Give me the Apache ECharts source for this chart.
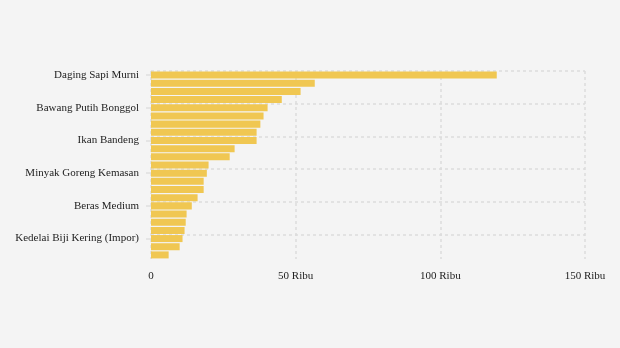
<!DOCTYPE html>
<html><head><meta charset="utf-8">
<script src="https://cdn.jsdelivr.net/npm/echarts@6/dist/echarts.min.js"></script>
<style>html,body{margin:0;padding:0;background:#f4f4f4}#c{width:620px;height:348px}</style>
</head><body><div id="c"></div>
<script>
var categories = [
  "Daging Sapi Murni","Cabai Rawit Merah","Cabai Merah Besar","Cabai Merah Keriting",
  "Bawang Putih Bonggol","Bawang Merah","Ikan Kembung","Daging Ayam Ras",
  "Ikan Bandeng","Ikan Tongkol","Telur Ayam Ras","Gula Konsumsi",
  "Minyak Goreng Kemasan","Minyak Goreng Curah","Tepung Terigu (Non Curah)","Beras Premium",
  "Beras Medium","Garam Konsumsi","Minyak Goreng Kita","Tepung Terigu Curah",
  "Kedelai Biji Kering (Impor)","Beras SPHP","Jagung Tingkat Peternak"
];
var values = [
  119500, 56600, 51700, 45200,
  40300, 38900, 37800, 36500,
  36500, 28900, 27200, 19900,
  19300, 18200, 18200, 16100,
  14100, 12300, 12000, 11600,
  10900, 9900, 6100
];
var xTicks = [0, 50000, 100000, 150000];
var xTickLabels = ["0", "50 Ribu", "100 Ribu", "150 Ribu"];

var chart = echarts.init(document.getElementById('c'), null, {renderer: 'canvas'});
var font = '"Liberation Serif", "Times New Roman", serif';
chart.setOption({
  backgroundColor: '#f4f4f4',
  animation: false,
  grid: {left: 151, right: 35, top: 71, bottom: 89, containLabel: false},
  xAxis: {
    type: 'value', min: xTicks[0], max: xTicks[xTicks.length - 1], interval: 50000,
    axisLine: {show: false}, axisTick: {show: false},
    axisLabel: {
      margin: 12, fontFamily: font, fontSize: 11, color: '#222',
      formatter: function (v) { var i = xTicks.indexOf(v); return i >= 0 ? xTickLabels[i] : ''; }
    },
    splitLine: {show: true, lineStyle: {color: '#dcdcdc', width: 1.5, type: [3, 3]}}
  },
  yAxis: {
    type: 'category', data: categories, inverse: true,
    axisLine: {show: false},
    axisTick: {show: true, interval: 3, alignWithLabel: true, length: 5, lineStyle: {color: '#dedede', width: 1.5}},
    axisLabel: {interval: 3, margin: 12, fontFamily: font, fontSize: 11, color: '#222'},
    splitLine: {show: true, interval: 3, showMaxLine: false, lineStyle: {color: '#dcdcdc', width: 1.5, type: [3, 3]}}
  },
  series: [{
    type: 'bar', data: values, barCategoryGap: '14%',
    itemStyle: {color: '#f0c752'}
  }]
});
</script>
</body></html>
